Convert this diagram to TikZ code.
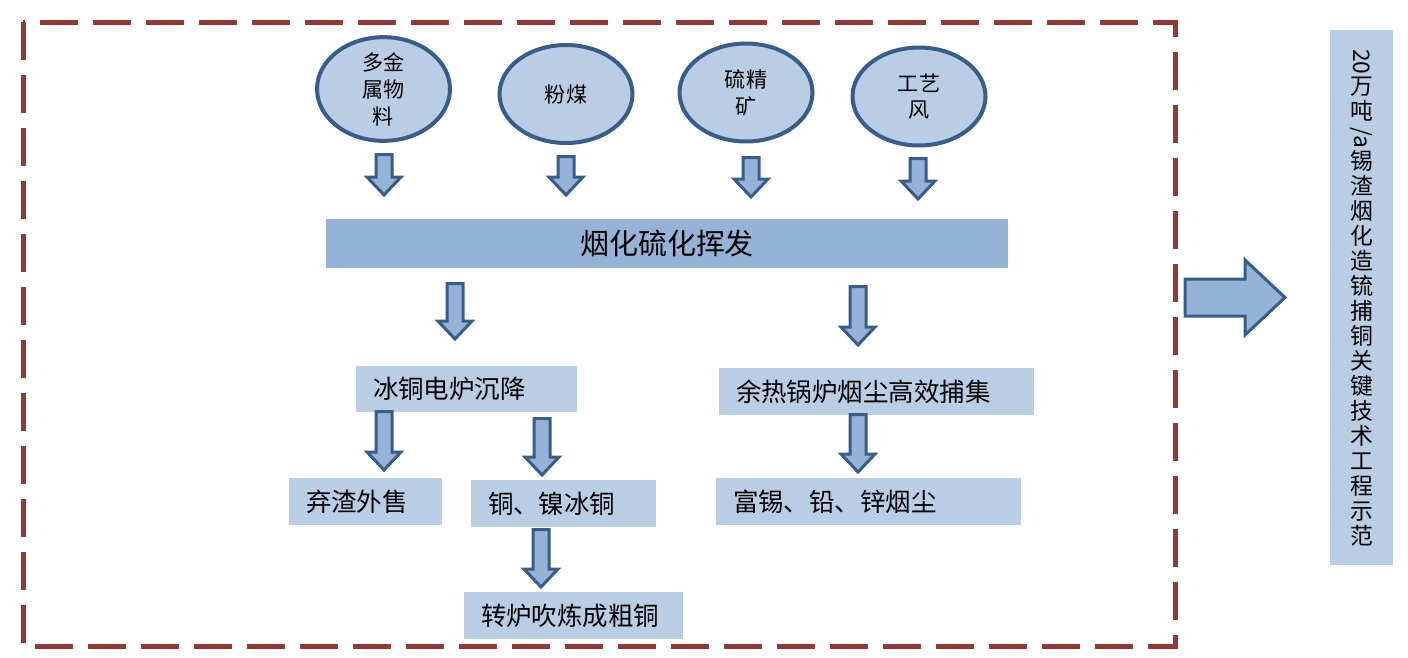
\documentclass[tikz,border=0pt]{standalone}
\usepackage{graphicx}
\usepackage{fontspec}
\setmainfont{Noto Sans CJK SC}
\usepackage{xcolor}
\usepackage{tikz}
\usetikzlibrary{shapes.geometric}

\definecolor{lightblue}{HTML}{B9CDE5}
\definecolor{midblue}{HTML}{95B3D7}
\definecolor{edgeblue}{HTML}{385D8A}
\definecolor{darkred}{HTML}{953735}

% fat down arrow: x, top, tip
\newcommand{\blockdown}[3]{%
  \draw[fatarrow] (#1-8,#2) -- (#1+8,#2) -- (#1+8,#3-18) -- (#1+17,#3-18)
    -- (#1,#3) -- (#1-17,#3-18) -- (#1-8,#3-18) -- cycle;}
% sideways latin inside the vertical title
\newcommand{\sidew}[1]{\rotatebox[origin=c]{-90}{#1}}

\begin{document}
\begin{tikzpicture}[x=0.02cm, y=-0.02cm, line join=miter]
\tikzstyle{fatarrow} = [draw=edgeblue, fill=midblue, line width=0.06cm]
\tikzstyle{feed} = [ellipse, fill=lightblue, draw=edgeblue, line width=0.08cm, minimum width=2.66cm, minimum height=1.96cm, inner sep=0pt, align=center, font=\fontsize{12}{15.3}\selectfont]
\tikzstyle{stage} = [fill=lightblue, minimum height=0.93cm, inner xsep=0.34cm, inner ysep=0pt, align=left, font=\fontsize{14.5}{17}\selectfont]
\useasboundingbox (0,0) rectangle (1408,657);

\draw[darkred, line width=0.1cm, dash pattern=on 0.76cm off 0.3cm] (23,22) rectangle (1175,646);

\node[feed] (e1) at (383.5,89) {多金\\属物\\料};
\node[feed] (e2) at (566,94) {粉煤};
\node[feed] (e3) at (746,92.5) {硫精\\矿};
\node[feed] (e4) at (919,96.5) {工艺\\风};

\node[stage, fill=midblue, align=center, minimum width=13.64cm, minimum height=0.98cm, font=\fontsize{16.5}{20}\selectfont] (fume) at (667,243.5) {烟化硫化挥发};

\node[stage, text width=3.74cm] (settle) at (466.5,389) {冰铜电炉沉降};
\node[stage, text width=5.62cm] (boiler) at (876.5,391.5) {余热锅炉烟尘高效捕集};
\node[stage, text width=2.38cm] (slag) at (365.5,501.5) {弃渣外售};
\node[stage, text width=3.02cm] (matte) at (563.5,503.5) {铜、镍冰铜};
\node[stage, text width=5.42cm] (dust) at (868.5,501.5) {富锡、铅、锌烟尘};
\node[stage, text width=3.70cm] (blow) at (573.5,615.5) {转炉吹炼成粗铜};

\node[fill=lightblue, minimum width=1.26cm, minimum height=10.7cm, inner sep=0pt, align=center, font=\fontsize{13}{14.2}\selectfont] (title) at (1361.5,297.5)
  {\sidew{20}\\万\\吨\\\sidew{/a}\\锡\\渣\\烟\\化\\造\\锍\\捕\\铜\\关\\键\\技\\术\\工\\程\\示\\范};

\blockdown{384}{154.5}{195}
\blockdown{566}{156.5}{195}
\blockdown{751}{157.5}{197}
\blockdown{918}{158.5}{199}
\blockdown{455}{283.5}{339}
\blockdown{858}{286.5}{345}
\blockdown{384}{411.5}{470}
\blockdown{542}{418.5}{475}
\blockdown{858}{414.5}{472}
\blockdown{541}{529.5}{587}

\draw[fatarrow] (1185,279) -- (1245,279) -- (1245,260) -- (1285,297.5) -- (1245,335) -- (1245,316) -- (1185,316) -- cycle;
\end{tikzpicture}
\end{document}
